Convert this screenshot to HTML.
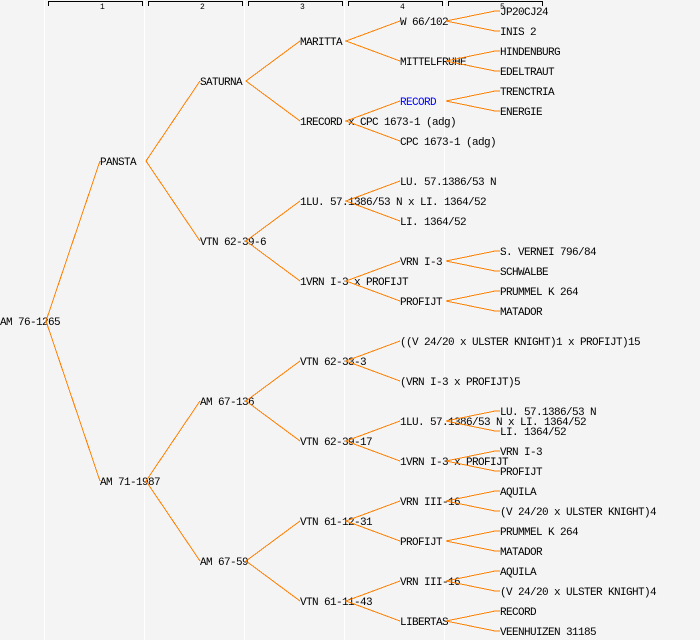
<!DOCTYPE html>
<html><head><meta charset="utf-8"><style>
html,body{margin:0;padding:0;background:#f4f4f4}
svg{display:block}
text{font-family:"Liberation Mono",monospace;font-size:11px;letter-spacing:-0.6px;fill:#000}
.h{font-size:8px;letter-spacing:0}
</style></head><body>
<svg width="700" height="640" xmlns="http://www.w3.org/2000/svg">
<rect width="700" height="640" fill="#f4f4f4"/>
<g stroke="#fff" stroke-width="1">
<line x1="44.5" y1="0" x2="44.5" y2="640"/><line x1="144.5" y1="0" x2="144.5" y2="640"/><line x1="244.5" y1="0" x2="244.5" y2="640"/><line x1="344.5" y1="0" x2="344.5" y2="640"/><line x1="444.5" y1="0" x2="444.5" y2="640"/>
</g>
<g stroke="#000" fill="none" stroke-width="1">
<path d="M48.5 6V1.5H142.5V6"/><path d="M148.5 6V1.5H242.5V6"/><path d="M248.5 6V1.5H342.5V6"/><path d="M348.5 6V1.5H442.5V6"/><path d="M448.5 6V1.5H542.5V6"/>
</g>
<g><text class="h" x="100" y="9">1</text><text class="h" x="200" y="9">2</text><text class="h" x="300" y="9">3</text><text class="h" x="400" y="9">4</text><text class="h" x="500" y="9">5</text></g>
<g transform="translate(0,1)">
<g transform="translate(0,-1)">
<text x="0" y="325">AM 76-1265</text>
<text x="100" y="165">PANSTA</text><text x="100" y="485">AM 71-1987</text>
<text x="200" y="85">SATURNA</text><text x="200" y="245">VTN 62-39-6</text><text x="200" y="405">AM 67-136</text><text x="200" y="565">AM 67-59</text>
<text x="300" y="45">MARITTA</text><text x="300" y="125">1RECORD x CPC 1673-1 (adg)</text><text x="300" y="205">1LU. 57.1386/53 N x LI. 1364/52</text><text x="300" y="285">1VRN I-3 x PROFIJT</text><text x="300" y="365">VTN 62-33-3</text><text x="300" y="445">VTN 62-39-17</text><text x="300" y="525">VTN 61-12-31</text><text x="300" y="605">VTN 61-11-43</text>
<text x="400" y="25">W 66/102</text><text x="400" y="65">MITTELFRUHE</text><text x="400" y="105" style="fill:#0000ff">RECORD</text><text x="400" y="145">CPC 1673-1 (adg)</text><text x="400" y="185">LU. 57.1386/53 N</text><text x="400" y="225">LI. 1364/52</text><text x="400" y="265">VRN I-3</text><text x="400" y="305">PROFIJT</text><text x="400" y="345">((V 24/20 x ULSTER KNIGHT)1 x PROFIJT)15</text><text x="400" y="385">(VRN I-3 x PROFIJT)5</text><text x="400" y="425">1LU. 57.1386/53 N x LI. 1364/52</text><text x="400" y="465">1VRN I-3 x PROFIJT</text><text x="400" y="505">VRN III-16</text><text x="400" y="545">PROFIJT</text><text x="400" y="585">VRN III-16</text><text x="400" y="625">LIBERTAS</text>
<text x="500" y="15">JP20CJ24</text><text x="500" y="35">INIS 2</text><text x="500" y="55">HINDENBURG</text><text x="500" y="75">EDELTRAUT</text><text x="500" y="95">TRENCTRIA</text><text x="500" y="115">ENERGIE</text>
<text x="500" y="255">S. VERNEI 796/84</text><text x="500" y="275">SCHWALBE</text><text x="500" y="295">PRUMMEL K 264</text><text x="500" y="315">MATADOR</text>
<text x="500" y="415">LU. 57.1386/53 N</text><text x="500" y="435">LI. 1364/52</text><text x="500" y="455">VRN I-3</text><text x="500" y="475">PROFIJT</text>
<text x="500" y="495">AQUILA</text><text x="500" y="515">(V 24/20 x ULSTER KNIGHT)4</text><text x="500" y="535">PRUMMEL K 264</text><text x="500" y="555">MATADOR</text><text x="500" y="575">AQUILA</text><text x="500" y="595">(V 24/20 x ULSTER KNIGHT)4</text><text x="500" y="615">RECORD</text><text x="500" y="635">VEENHUIZEN 31185</text>
</g>
<g stroke="#ff8000" stroke-width="1" fill="none" shape-rendering="crispEdges">
<path d="M100 160L46 320L100 480"/>
<path d="M200 80L146 160L200 240"/><path d="M200 400L146 480L200 560"/>
<path d="M300 40L246 80L300 120"/><path d="M300 200L246 240L300 280"/><path d="M300 360L246 400L300 440"/><path d="M300 520L246 560L300 600"/>
<path d="M400 20L346 40L400 60"/><path d="M400 100L346 120L400 140"/><path d="M400 180L346 200L400 220"/><path d="M400 260L346 280L400 300"/><path d="M400 340L346 360L400 380"/><path d="M400 420L346 440L400 460"/><path d="M400 500L346 520L400 540"/><path d="M400 580L346 600L400 620"/>
<path d="M500 10H495L446 20L495 30H500"/><path d="M500 50H495L446 60L495 70H500"/><path d="M500 90H495L446 100L495 110H500"/>
<path d="M500 250H495L446 260L495 270H500"/><path d="M500 290H495L446 300L495 310H500"/>
<path d="M500 410H495L446 420L495 430H500"/><path d="M500 450H495L446 460L495 470H500"/>
<path d="M500 490H495L446 500L495 510H500"/><path d="M500 530H495L446 540L495 550H500"/><path d="M500 570H495L446 580L495 590H500"/><path d="M500 610H495L446 620L495 630H500"/>
</g>
</g>
</svg>
</body></html>
